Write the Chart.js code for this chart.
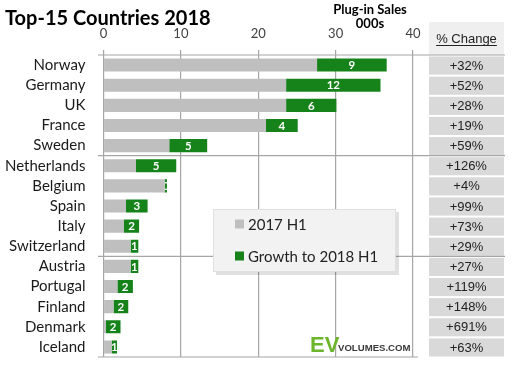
<!DOCTYPE html>
<html>
<head>
<meta charset="utf-8">
<script src="https://cdn.jsdelivr.net/npm/chart.js@4/dist/chart.umd.min.js"></script>
<style>
  html, body { margin: 0; padding: 0; background: #fff; overflow: hidden; }
  canvas { display: block; }
</style>
</head>
<body>
<canvas id="chart" width="519" height="369"></canvas>
<script>
// Data
const countries = ['Norway', 'Germany', 'UK', 'France', 'Sweden', 'Netherlands', 'Belgium', 'Spain',
    'Italy', 'Switzerland', 'Austria', 'Portugal', 'Finland', 'Denmark', 'Iceland'];
const sales2017H1 = [27.6, 23.6, 23.6, 21.0, 8.5, 4.2, 7.9, 2.9, 2.65, 3.5, 3.5, 1.8, 1.3, 0.3, 1.05];
const growthTo2018H1 = [9.0, 12.2, 6.5, 4.1, 4.9, 5.2, 0.3, 2.8, 1.95, 1.0, 1.0, 2.0, 1.9, 1.9, 0.7];
const growthLabels = ['9', '12', '6', '4', '5', '5', '0', '3', '2', '1', '1', '2', '2', '2', '1'];
const pctChange = ['+32%', '+52%', '+28%', '+19%', '+59%', '+126%', '+4%', '+99%', '+73%', '+29%',
    '+27%', '+119%', '+148%', '+691%', '+63%'];
const xTicks = [0, 10, 20, 30, 40];
const groupBreaks = [5, 10]; // separator lines before these rows

const GREY = '#bfbfbf';
const GREEN = '#15821a';
const LINE = '#a6a6a6';

// Extra drawing: title, % change column, separators, legend box, logo, bar labels
const decorPlugin = {
    id: 'decor',
    afterDatasetsDraw(chart) {
        const ctx = chart.ctx;
        const meta = chart.getDatasetMeta(1);
        ctx.save();
        ctx.font = 'bold 11.5px Lato';
        ctx.fillStyle = '#fff';
        ctx.textAlign = 'center';
        ctx.textBaseline = 'middle';
        meta.data.forEach((bar, i) => {
            const left = Math.min(bar.base, bar.x);
            const w = Math.abs(bar.x - bar.base);
            ctx.save();
            ctx.beginPath();
            ctx.rect(left, bar.y - bar.height / 2, w, bar.height);
            ctx.clip();
            ctx.fillText(growthLabels[i], left + w / 2, bar.y + 0.5);
            ctx.restore();
        });
        ctx.restore();
    },
    afterDraw(chart) {
        const ctx = chart.ctx;
        const area = chart.chartArea;
        const y = chart.scales.y;
        const rowH = y.getPixelForValue(1) - y.getPixelForValue(0);
        ctx.save();

        // title
        ctx.fillStyle = '#000';
        ctx.textAlign = 'left';
        ctx.textBaseline = 'alphabetic';
        ctx.font = 'bold 20px Lato';
        ctx.fillText('Top-15 Countries 2018', 5, 25);

        // axis title
        ctx.textAlign = 'center';
        ctx.font = 'bold 13px Lato';
        ctx.fillText('Plug-in Sales', 370, 14);
        ctx.fillText('000s', 370, 28);

        // % change column
        const colL = 429, colR = 504, colC = (colL + colR) / 2;
        ctx.fillStyle = '#efefef';
        ctx.fillRect(colL, 22, colR - colL, area.top - 22);
        ctx.fillStyle = '#222';
        ctx.font = '13px "Liberation Sans"';
        ctx.fillText('% Change', colC, 43);
        const tw = ctx.measureText('% Change').width;
        ctx.fillRect(colC - tw / 2, 45, tw, 1);

        pctChange.forEach((p, i) => {
            const cy = y.getPixelForValue(i);
            ctx.fillStyle = '#d9d9d9';
            ctx.fillRect(colL, cy - rowH / 2 + 1.5, colR - colL, rowH - 2);
            ctx.fillStyle = '#222';
            ctx.textBaseline = 'middle';
            ctx.fillText(p, colC, cy + 1);
        });

        // axis lines and group separators
        ctx.strokeStyle = LINE;
        ctx.lineWidth = 1.2;
        ctx.beginPath();
        ctx.moveTo(98, area.top);
        ctx.lineTo(505, area.top);
        ctx.moveTo(98, area.bottom);
        ctx.lineTo(418, area.bottom);
        groupBreaks.forEach(b => {
            const sy = (y.getPixelForValue(b - 1) + y.getPixelForValue(b)) / 2;
            ctx.moveTo(98, sy);
            ctx.lineTo(505, sy);
        });
        ctx.stroke();

        // legend box
        const lx = 213, ly = 209, lw = 183, lh = 63;
        ctx.fillStyle = 'rgba(0,0,0,0.12)';
        ctx.fillRect(lx + 3, ly + 3, lw, lh);
        ctx.fillStyle = '#f2f2f2';
        ctx.fillRect(lx, ly, lw, lh);
        ctx.strokeStyle = '#e0e0e0';
        ctx.lineWidth = 1;
        ctx.strokeRect(lx + 0.5, ly + 0.5, lw - 1, lh - 1);
        ctx.textAlign = 'left';
        ctx.textBaseline = 'middle';
        ctx.font = '15px Lato';
        chart.data.datasets.forEach((ds, i) => {
            const iy = 224 + i * 32;
            ctx.fillStyle = ds.backgroundColor;
            ctx.fillRect(235, iy - 4.5, 9, 9);
            ctx.fillStyle = '#222';
            ctx.fillText(ds.label, 248, iy + 1);
        });

        // logo
        ctx.textBaseline = 'alphabetic';
        ctx.fillStyle = '#6cb52d';
        ctx.font = 'bold 22px "Liberation Sans"';
        ctx.fillText('EV', 310, 352);
        ctx.fillStyle = '#3a3a3a';
        ctx.font = 'bold 9.6px "Liberation Sans"';
        ctx.fillText('VOLUMES.COM', 338, 351);

        ctx.restore();
    }
};

// keep the plot area where the layout padding puts it
const noScalePad = s => {
    s.paddingTop = 0; s.paddingBottom = 0; s.paddingLeft = 0; s.paddingRight = 0;
};

new Chart(document.getElementById('chart'), {
    type: 'bar',
    data: {
        labels: countries,
        datasets: [
            { label: '2017 H1', data: sales2017H1, backgroundColor: GREY },
            { label: 'Growth to 2018 H1', data: growthTo2018H1, backgroundColor: GREEN }
        ]
    },
    options: {
        indexAxis: 'y',
        responsive: false,
        animation: false,
        barPercentage: 0.65,
        categoryPercentage: 1.0,
        layout: { padding: { left: 0, top: 0, right: 106, bottom: 12 } },
        plugins: {
            legend: { display: false },
            tooltip: { enabled: false }
        },
        scales: {
            x: {
                position: 'top',
                stacked: true,
                min: 0,
                max: 40,
                afterBuildTicks: s => { s.ticks = xTicks.map(v => ({ value: v })); },
                afterFit: s => { s.height = 55; noScalePad(s); },
                ticks: { font: { family: 'Lato', size: 13 }, color: '#404040', padding: 8 },
                grid: { color: LINE, lineWidth: 1.2, tickLength: 5 },
                border: { display: false }
            },
            y: {
                stacked: true,
                afterFit: s => { s.width = 103.5; noScalePad(s); },
                ticks: { font: { family: 'Lato', size: 15 }, color: '#1a1a1a', padding: 10, autoSkip: false },
                grid: { display: false },
                border: { display: false }
            }
        }
    },
    plugins: [decorPlugin]
});
</script>
</body>
</html>
